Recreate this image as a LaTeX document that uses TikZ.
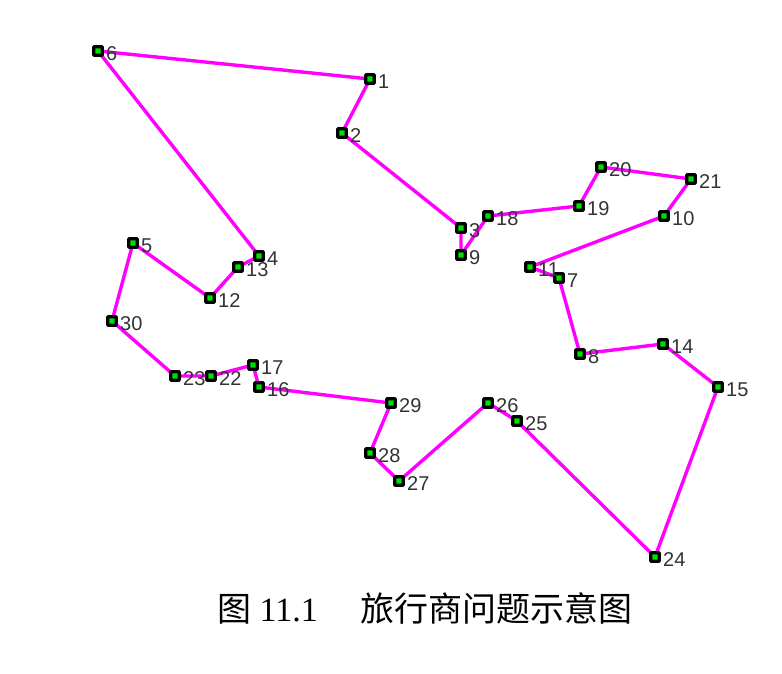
\documentclass[tikz,border=0pt]{standalone}
\usepackage{fontspec}
\setmainfont{Liberation Serif}
\setsansfont{Liberation Sans}
\newfontfamily\cjk{Noto Sans CJK SC}
\definecolor{tourmag}{HTML}{FF00FF}
\definecolor{markgreen}{HTML}{00E000}
\definecolor{labgray}{HTML}{333333}
\begin{document}
\begin{tikzpicture}[x=1pt,y=-1pt,
  city/.style={draw=black,fill=markgreen,line width=3.4pt,minimum size=8.5pt,inner sep=0pt,rectangle,rounded corners=0.8pt},
  lab/.style={font=\sffamily\fontsize{20}{20}\selectfont,text=labgray,anchor=west,inner sep=0pt},
  tour/.style={draw=tourmag,line width=3.4pt,line join=round}]
\useasboundingbox[fill=white] (0,0) rectangle (782,674);
\foreach \n/\x/\y in {6/98/51,1/370/79,2/342/133,3/461/228,9/461/255,18/488/216,19/579/206,20/601/167,21/691/179,10/664/216,11/530/267,7/559/278,8/580/354,14/663/344,15/718/387,24/655/557,25/517/421,26/488/403,27/399/481,28/370/453,29/391/403,16/259/387,17/253/365,22/211/376,23/175/376,30/112/321,5/133/243,12/210/298,13/238/267,4/259/256}{
  \coordinate (c\n) at (\x,\y);
}
\draw[tour] (c6)--(c1)--(c2)--(c3)--(c9)--(c18)--(c19)--(c20)--(c21)--(c10)--(c11)--(c7)--(c8)--(c14)--(c15)--(c24)--(c25)--(c26)--(c27)--(c28)--(c29)--(c16)--(c17)--(c22)--(c23)--(c30)--(c5)--(c12)--(c13)--(c4)--cycle;
\foreach \n in {6,1,2,3,9,18,19,20,21,10,11,7,8,14,15,24,25,26,27,28,29,16,17,22,23,30,5,12,13,4}{
  \node[city] (m\n) at (c\n) {};
}
\foreach \n in {6,1,2,3,9,18,19,20,21,10,11,7,8,14,15,24,25,26,27,28,29,16,17,22,23,30,5,12,13,4}{
  \node[lab] (l\n) at ([xshift=8pt,yshift=-3pt]c\n) {\n};
}
\node[font=\fontsize{34}{34}\selectfont,anchor=base west,inner sep=0pt] (cap1) at (217,621) {{\cjk 图} 11.1};
\node[font=\cjk\fontsize{34}{34}\selectfont,anchor=base west,inner sep=0pt] (cap2) at (360,621) {旅行商问题示意图};
\end{tikzpicture}
\end{document}
